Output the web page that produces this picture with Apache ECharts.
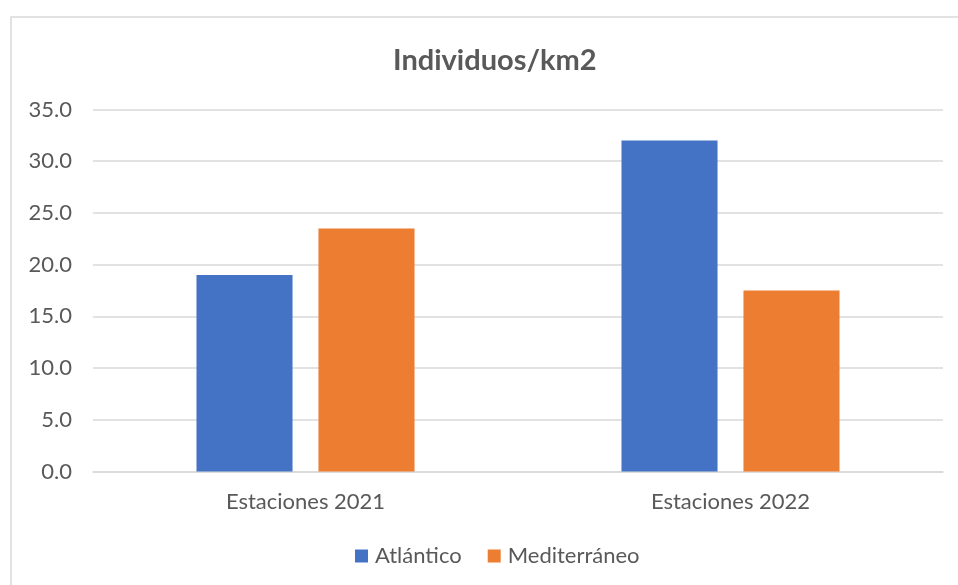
<!DOCTYPE html>
<html>
<head>
<meta charset="utf-8">
<script src="https://cdn.jsdelivr.net/npm/echarts@6/dist/echarts.min.js"></script>
<style>
  html, body { margin: 0; padding: 0; background: #ffffff; }
  #chart { width: 958px; height: 585px; }
</style>
</head>
<body>
<div id="chart"></div>
<script>
// Density of individuals per km² by station campaign
const categories = ['Estaciones 2021', 'Estaciones 2022'];
const atlantico = [19.0, 32.0];
const mediterraneo = [23.5, 17.5];
const seriesNames = ['Atlántico', 'Mediterráneo'];

const textColor = '#595959';
const gridColor = '#d9d9d9';
const font = 'Lato, "Open Sans", sans-serif';

const chart = echarts.init(document.getElementById('chart'), null, { renderer: 'canvas' });

chart.setOption({
  animation: false,
  backgroundColor: '#ffffff',
  title: {
    text: 'Individuos/km2',
    left: 388,
    top: 41,
    textStyle: { color: textColor, fontFamily: font, fontWeight: 'bold', fontSize: 29 }
  },
  graphic: [{
    type: 'rect',
    shape: { x: 11, y: 17, width: 960, height: 600 },
    style: { fill: 'none', stroke: gridColor, lineWidth: 1.5 },
    silent: true
  }],
  legend: {
    top: 540,
    left: 350,
    itemWidth: 13,
    itemHeight: 13,
    itemGap: 26,
    icon: 'rect',
    textStyle: { color: textColor, fontFamily: font, fontSize: 22, padding: [0, 0, 0, 2] },
    data: seriesNames
  },
  grid: { left: 93, right: 15, top: 109.5, bottom: 113.5, containLabel: false },
  xAxis: {
    type: 'category',
    data: categories,
    axisLine: { lineStyle: { color: gridColor, width: 1.5 } },
    axisTick: { show: false },
    axisLabel: { color: textColor, fontFamily: font, fontSize: 22, margin: 19 }
  },
  yAxis: {
    type: 'value',
    min: 0,
    max: 35,
    interval: 5,
    axisLine: { show: false },
    axisTick: { show: false },
    splitLine: { lineStyle: { color: gridColor, width: 1.5 } },
    axisLabel: {
      color: textColor, fontFamily: font, fontSize: 22, margin: 21,
      formatter: v => v.toFixed(1)
    }
  },
  series: [
    {
      name: seriesNames[0], type: 'bar', data: atlantico,
      barWidth: '22.6%', barGap: '27%',
      itemStyle: { color: '#4472C4' }
    },
    {
      name: seriesNames[1], type: 'bar', data: mediterraneo,
      barWidth: '22.6%', barGap: '27%',
      itemStyle: { color: '#ED7D31' }
    }
  ]
});
</script>
</body>
</html>
